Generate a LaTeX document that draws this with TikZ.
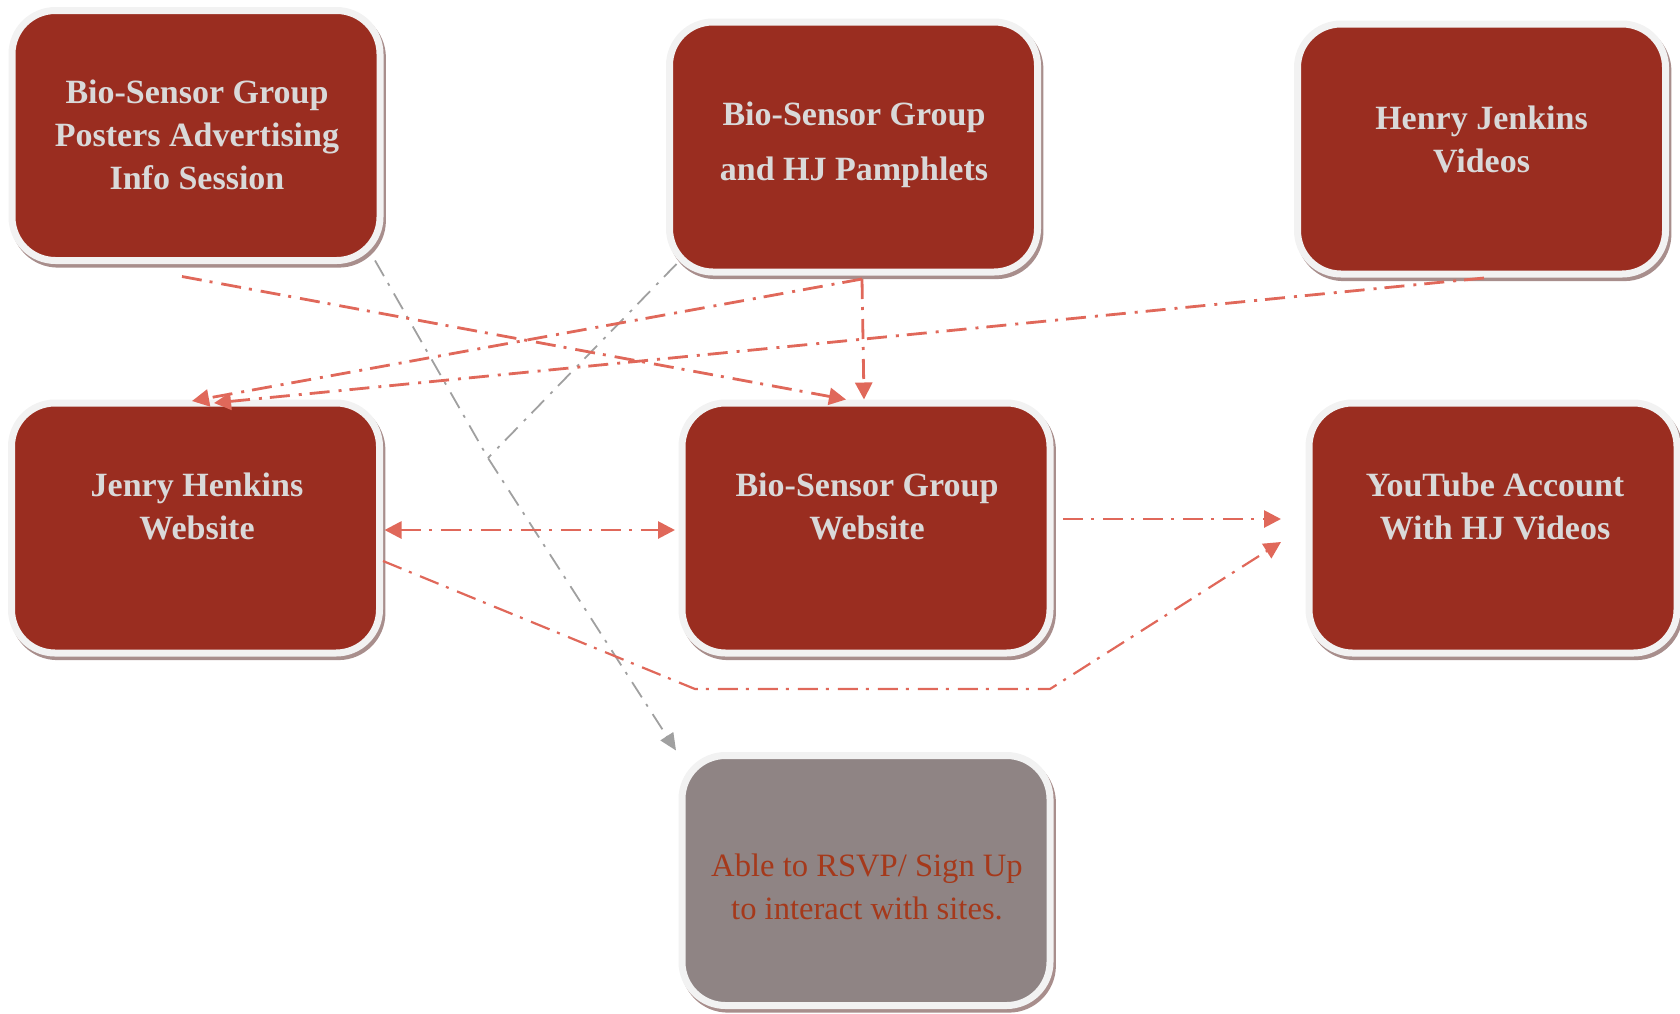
\documentclass[tikz,border=0pt]{standalone}
\usepackage{fontspec}
\setmainfont{Liberation Serif}
\usetikzlibrary{arrows.meta,calc}
\definecolor{boxred}{HTML}{9A2D20}
\definecolor{boxgrey}{HTML}{8F8484}
\definecolor{rimwhite}{HTML}{F2F2F2}
\definecolor{shadowc}{HTML}{A88E8C}
\definecolor{txtlight}{HTML}{D9D9D9}
\definecolor{txtdark}{HTML}{A5391B}
\definecolor{arrred}{HTML}{E0685A}
\definecolor{arrgrey}{HTML}{A0A0A0}
\begin{document}
\begin{tikzpicture}[x=0.5pt,y=-0.5pt,
  box/.style={rectangle, rounded corners=21.75pt, minimum width=184pt, minimum height=125pt,
    inner sep=0pt, fill=boxred, draw=rimwhite, line width=3.5pt,
    preaction={fill=shadowc, draw=shadowc, line width=3.5pt, transform canvas={shift={(1.2pt,-1.8pt)}}}},
  greybox/.style={box, fill=boxgrey},
  txt/.style={text=txtlight, font=\fontsize{17}{21.5}\selectfont\bfseries, align=center, inner sep=0pt},
  redarr/.style={draw=arrred, line width=1.4pt, dash pattern=on 10pt off 4pt on 1.5pt off 4.5pt,
    -{Triangle[length=8.5pt,width=8.5pt]}},
  greyline/.style={draw=arrgrey, line width=0.9pt, dash pattern=on 9pt off 4pt on 1.5pt off 4.5pt}
]
\useasboundingbox (0,0) rectangle (1680,1013);
% boxes
\node[box] (b1) at (196,135.5) {};
\node[box] (b2) at (853.5,147) {};
\node[box] (b3) at (1481.5,149) {};
\node[box] (b4) at (195.5,528) {};
\node[box] (b5) at (866,528) {};
\node[box] (b6) at (1493,528) {};
\node[greybox] (b7) at (866,880.5) {};
% texts
\node[txt] (t1) at (197,135) {Bio-Sensor Group\\Posters Advertising\\Info Session};
\node[txt, font=\fontsize{17}{27.5}\selectfont\bfseries] (t2) at (854,145) {Bio-Sensor Group\\and HJ Pamphlets};
\node[txt] (t3) at (1481.5,139) {Henry Jenkins\\Videos};
\node[txt] (t4) at (197,506) {Jenry Henkins\\Website};
\node[txt] (t5) at (867,506) {Bio-Sensor Group\\Website};
\node[txt] (t6) at (1495,506) {YouTube Account\\With HJ Videos};
\node[txt, text=txtdark, font=\fontsize{16.3}{21.5}\selectfont] (t7) at (867,887) {Able to RSVP/ Sign Up\\to interact with sites.};
% grey connectors
\coordinate (k) at (488,458);
\draw[greyline] ($(b2.south west)+(10.5,-11.5)$) -- (k);
\draw[greyline, -{Triangle[length=8.5pt,width=7.5pt]}] ($(b1.south east)+(-8.5,-3.5)$) -- (k) -- ($(b7.north west)+(-2.5,-1.5)$);
% red connectors
\draw[redarr] ($(b1.south)+(-14,12.5)$) -- ($(b5.north)+(-20,0)$);
\draw[redarr] ($(b2.south)+(8.5,3.5)$) -- ($(b5.north)+(-2,0)$);
\draw[redarr] ($(b2.south)+(8.5,3.5)$) -- ($(b4.north)+(-3.5,1.5)$);
\draw[redarr] ($(b3.south)+(2.5,0.5)$) -- ($(b4.north)+(18.5,3.5)$);
\draw[redarr, {Triangle[length=8.5pt,width=8.5pt]}-{Triangle[length=8.5pt,width=8.5pt]}] ($(b4.east)+(1.5,2)$) -- ($(b5.west)+(-3.5,2)$);
\draw[redarr] ($(b5.east)+(9.5,-9)$) -- ($(b6.west)+(-24.5,-9)$);
\draw[redarr, line width=1.1pt] ($(b4.east)+(0,33)$) -- (695,689) -- (1050,689) -- ($(b6.west)+(-24.5,14)$);
\end{tikzpicture}
\end{document}
